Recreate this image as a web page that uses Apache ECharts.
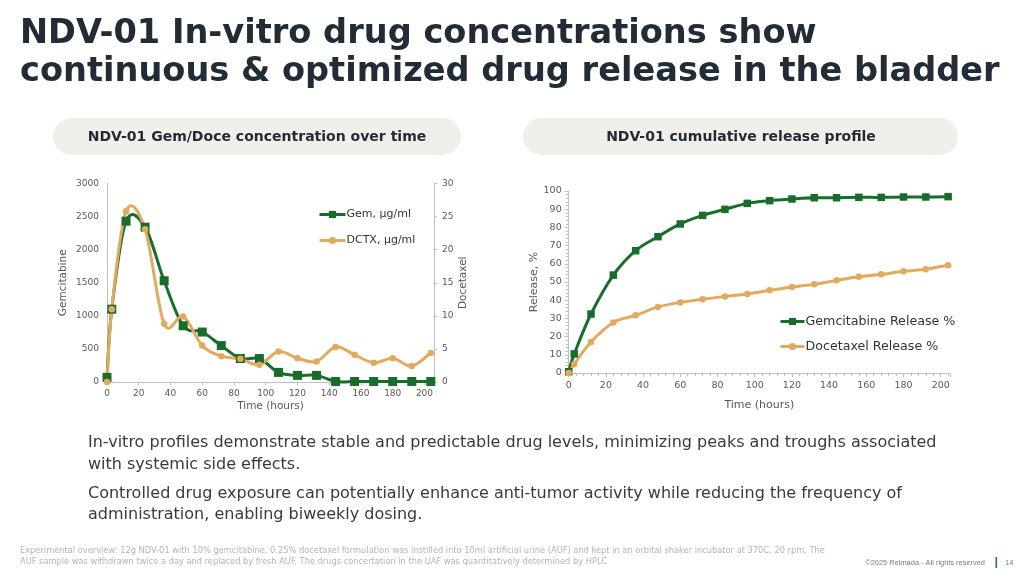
<!DOCTYPE html>
<html><head><meta charset="utf-8">
<script src="https://cdn.jsdelivr.net/npm/echarts@6/dist/echarts.min.js"></script>
<style>html,body{margin:0;padding:0;background:#fff}#c{width:1030px;height:579px}</style>
</head><body><div id="c"></div>
<script>
// ---- data ----
const hours = [0, 3, 12, 24, 36, 48, 60, 72, 84, 96, 108, 120, 132, 144, 156, 168, 180, 192, 204];
const gemConc = [70, 1100, 2430, 2340, 1530, 850, 755, 550, 355, 355, 145, 100, 100, 8, 8, 8, 8, 8, 8];
const dctxConc = [0, 11, 25.8, 23.1, 8.8, 9.9, 5.5, 3.9, 3.5, 2.6, 4.6, 3.6, 3.1, 5.3, 4.1, 2.9, 3.6, 2.4, 4.4];
const gemRelease = [0.7, 10.5, 32.4, 53.8, 67.2, 74.9, 81.9, 86.6, 89.9, 93.2, 94.7, 95.6, 96.3, 96.3, 96.5, 96.5, 96.7, 96.7, 96.9];
const doceRelease = [0, 4.9, 17, 27.7, 31.7, 36.3, 38.8, 40.5, 42.1, 43.4, 45.4, 47.3, 48.7, 50.9, 52.9, 54.2, 55.9, 57, 59.2];
const seriesNames = ['Gem, µg/ml', 'DCTX, µg/ml', 'Gemcitabine Release %', 'Docetaxel Release %'];

const titleLines = ['NDV-01 In-vitro drug concentrations show', 'continuous & optimized drug release in the bladder'];
const pillTitles = ['NDV-01 Gem/Doce concentration over time', 'NDV-01 cumulative release profile'];
const bodyLines = [
  'In-vitro profiles demonstrate stable and predictable drug levels, minimizing peaks and troughs associated',
  'with systemic side effects.',
  'Controlled drug exposure can potentially enhance anti-tumor activity while reducing the frequency of',
  'administration, enabling biweekly dosing.'
];
const footLines = [
  'Experimental overview: 12g NDV-01 with 10% gemcitabine, 0.25% docetaxel formulation was instilled into 10ml artificial urine (AUF) and kept in an orbital shaker incubator at 370C, 20 rpm. The',
  'AUF sample was withdrawn twice a day and replaced by fresh AUF. The drugs concertation in the UAF was quantitatively determined by HPLC'
];
const copyright = '©2025 Relmada - All rights reserved';
const pageNo = '14';

// ---- helpers ----
const FAM = '"DejaVu Sans", sans-serif';
const cv = document.createElement('canvas').getContext('2d');
function fit(text, weight, family, targetW) {
  cv.font = weight + ' 40px ' + family;
  return 40 * targetW / cv.measureText(text).width;
}
const pair = a => hours.map((h, i) => [h, a[i]]);

const GREEN = '#186c2c', ORANGE = '#e2aa5e', AX = '#bfbfbf', LBL = '#595959';

const titleSize = fit(titleLines[1], 'bold', FAM, 980);
const bodySize = fit(bodyLines[0], 'normal', FAM, 849);
const pill1Size = fit(pillTitles[0], 'bold', FAM, 339);
const footSize = fit(footLines[0], 'normal', FAM, 806);
const copySize = fit(copyright, 'normal', '"Liberation Sans", Arial, sans-serif', 120);
const legSize = fit(seriesNames[2], 'normal', FAM, 150);

const txt = (text, x, y, size, weight, fill, align, family) => ({
  type: 'text', z: 10,
  style: { text, x, y, font: weight + ' ' + size + 'px ' + (family || FAM), fill, align: align || 'left', verticalAlign: 'middle' }
});

const graphics = [
  txt(titleLines[0], 20, 34, titleSize, 'bold', '#222c37'),
  txt(titleLines[1], 20, 72, titleSize, 'bold', '#222c37'),
  { type: 'rect', shape: { x: 53, y: 118, width: 408, height: 37, r: 18.5 }, style: { fill: '#f1efea' } },
  { type: 'rect', shape: { x: 523, y: 118, width: 435, height: 37, r: 18.5 }, style: { fill: '#f1efea' } },
  txt(pillTitles[0], 257, 137, pill1Size, 'bold', '#222c37', 'center'),
  txt(pillTitles[1], 741, 137, pill1Size, 'bold', '#222c37', 'center'),
  txt(bodyLines[0], 88, 443, bodySize, 'normal', '#3a3a3a'),
  txt(bodyLines[1], 88, 465, bodySize, 'normal', '#3a3a3a'),
  txt(bodyLines[2], 88, 494, bodySize, 'normal', '#3a3a3a'),
  txt(bodyLines[3], 88, 515, bodySize, 'normal', '#3a3a3a'),
  txt(footLines[0], 20, 551, footSize, 'normal', '#b4b4b4'),
  txt(footLines[1], 20, 562, footSize, 'normal', '#b4b4b4'),
  txt(copyright, 985, 563, copySize, 'normal', '#7a7a7a', 'right', '"Liberation Sans", Arial, sans-serif'),
  { type: 'rect', shape: { x: 995.5, y: 557, width: 1.6, height: 11 }, style: { fill: '#1f7a33' } },
  txt(pageNo, 1005, 563, copySize, 'normal', '#7a7a7a', 'left', '"Liberation Sans", Arial, sans-serif')
];

// Excel-style smoothed curve (Catmull-Rom bezier through the data points, via axis scales)
function curve(ys, color) {
  return function (params, api) {
    if (params.dataIndex !== 0) return null;
    const pts = hours.map((h, i) => api.coord([h, ys[i]]));
    const n = pts.length, children = [];
    for (let i = 0; i < n - 1; i++) {
      const p0 = pts[Math.max(0, i - 1)], p1 = pts[i], p2 = pts[i + 1], p3 = pts[Math.min(n - 1, i + 2)];
      children.push({
        type: 'bezierCurve',
        shape: {
          x1: p1[0], y1: p1[1], x2: p2[0], y2: p2[1],
          cpx1: p1[0] + (p2[0] - p0[0]) / 6, cpy1: p1[1] + (p2[1] - p0[1]) / 6,
          cpx2: p2[0] - (p3[0] - p1[0]) / 6, cpy2: p2[1] - (p3[1] - p1[1]) / 6
        },
        style: { stroke: color, lineWidth: 3, fill: 'none', lineCap: 'round', lineJoin: 'round' }
      });
    }
    return { type: 'group', children };
  };
}

const axLine = { show: true, lineStyle: { color: AX, width: 1 } };
const lblStyle = (fs) => ({ fontSize: fs, color: LBL, fontFamily: FAM });
const plain = v => String(v);

const curveSeries = (ys, color, xi, yi, z) => ({
  type: 'custom', coordinateSystem: 'cartesian2d', xAxisIndex: xi, yAxisIndex: yi,
  data: pair(ys), encode: { x: 0, y: 1 }, renderItem: curve(ys, color), silent: true, z, clip: false
});
const markSeries = (name, ys, color, sym, size, xi, yi, z) => ({
  name, type: 'line', xAxisIndex: xi, yAxisIndex: yi, data: pair(ys),
  symbol: sym, symbolSize: size, showSymbol: true,
  lineStyle: { color, width: 3, opacity: 0 }, itemStyle: { color }, z
});

const option = {
  animation: false,
  backgroundColor: '#fff',
  graphic: graphics,
  grid: [
    { left: 107, top: 183.5, width: 327, height: 198.5 },
    { left: 568.7, top: 191, width: 381.3, height: 182 }
  ],
  legend: [
    { data: [seriesNames[0], seriesNames[1]], orient: 'vertical', left: 318, top: 209, padding: 0, itemWidth: 26, itemHeight: 9, itemGap: 15,
      lineStyle: { opacity: 1, width: 3 },
      textStyle: { fontSize: 11, color: '#333', fontFamily: FAM, padding: [0, 0, 0, -4] } },
    { data: [seriesNames[2], seriesNames[3]], orient: 'vertical', left: 779, top: 315, padding: 0, itemWidth: 24, itemHeight: 9, itemGap: 12,
      lineStyle: { opacity: 1, width: 3 },
      textStyle: { fontSize: legSize, color: '#333', fontFamily: FAM, padding: [0, 0, 0, -4] } }
  ],
  xAxis: [
    { type: 'value', gridIndex: 0, min: 0, max: 206, interval: 20,
      axisLine: axLine, axisTick: { show: true, length: 3, lineStyle: { color: AX } }, splitLine: { show: false },
      axisLabel: Object.assign(lblStyle(9), { margin: 7, showMaxLabel: false, formatter: plain }),
      name: 'Time (hours)', nameLocation: 'middle', nameGap: 19, nameTextStyle: lblStyle(10.5) },
    { type: 'value', gridIndex: 1, min: 0, max: 205, interval: 20,
      axisLine: axLine, axisTick: { show: true, length: 4, lineStyle: { color: AX } },
      minorTick: { show: true, splitNumber: 5, length: 3, lineStyle: { color: AX } },
      splitLine: { show: false },
      axisLabel: Object.assign(lblStyle(9.5), { margin: 8, showMaxLabel: false, formatter: plain }),
      name: 'Time (hours)', nameLocation: 'middle', nameGap: 27, nameTextStyle: lblStyle(11) }
  ],
  yAxis: [
    { type: 'value', gridIndex: 0, min: 0, max: 3000, interval: 500, position: 'left',
      axisLine: axLine, axisTick: { show: false }, splitLine: { show: false },
      axisLabel: Object.assign(lblStyle(9), { margin: 8, formatter: plain }),
      name: 'Gemcitabine', nameLocation: 'middle', nameGap: 38, nameRotate: 90, nameTextStyle: lblStyle(10.5) },
    { type: 'value', gridIndex: 0, min: 0, max: 30, interval: 5, position: 'right',
      axisLine: axLine, axisTick: { show: true, length: 3, lineStyle: { color: AX } }, splitLine: { show: false },
      axisLabel: Object.assign(lblStyle(9), { margin: 8, formatter: plain }),
      name: 'Docetaxel', nameLocation: 'middle', nameGap: 22, nameRotate: 90, nameTextStyle: lblStyle(10.5) },
    { type: 'value', gridIndex: 1, min: 0, max: 100, interval: 10,
      axisLine: axLine, axisTick: { show: true, length: 4, lineStyle: { color: AX } },
      minorTick: { show: true, splitNumber: 5, length: 3, lineStyle: { color: AX } },
      splitLine: { show: false },
      axisLabel: Object.assign(lblStyle(9.5), { margin: 7, formatter: plain }),
      name: 'Release, %', nameLocation: 'middle', nameGap: 28, nameRotate: 90, nameTextStyle: lblStyle(11) }
  ],
  series: [
    curveSeries(gemConc, GREEN, 0, 0, 2),
    curveSeries(dctxConc, ORANGE, 0, 1, 3),
    curveSeries(gemRelease, GREEN, 1, 2, 2),
    curveSeries(doceRelease, ORANGE, 1, 2, 3),
    markSeries(seriesNames[0], gemConc, GREEN, 'rect', 9, 0, 0, 4),
    markSeries(seriesNames[1], dctxConc, ORANGE, 'circle', 6.5, 0, 1, 5),
    markSeries(seriesNames[2], gemRelease, GREEN, 'rect', 7.5, 1, 2, 4),
    markSeries(seriesNames[3], doceRelease, ORANGE, 'circle', 6.5, 1, 2, 5)
  ]
};
const chart = echarts.init(document.getElementById('c'), null, { renderer: 'canvas' });
chart.setOption(option);
</script></body></html>
